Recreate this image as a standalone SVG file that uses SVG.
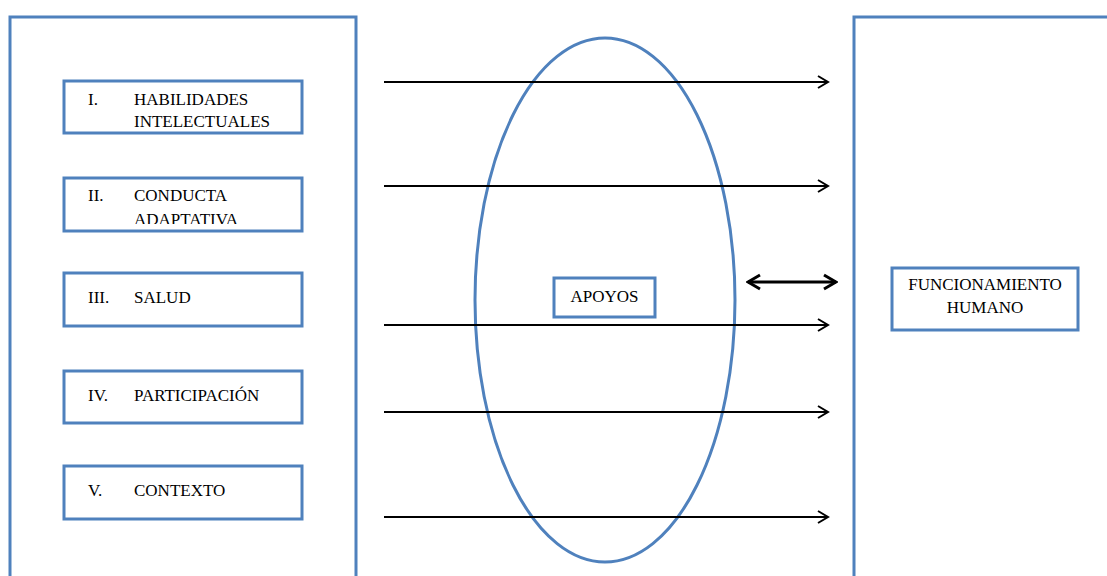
<svg xmlns="http://www.w3.org/2000/svg" width="1107" height="576" viewBox="0 0 1107 576">
<style>
.frame{fill:none;stroke:#4f81bd;stroke-width:3}
.box{fill:#fff;stroke:#4f81bd;stroke-width:3}
.t{font-family:"Liberation Serif","Times New Roman",serif;font-size:17px;fill:#000}
.arr{stroke:#000;stroke-width:2;fill:none}
.arr2{stroke:#000;stroke-width:3;fill:none}
</style>
<defs>
<marker id="ah" markerUnits="userSpaceOnUse" markerWidth="14" markerHeight="16" refX="12" refY="8" orient="auto">
<path d="M2,2 L12,8 L2,14" fill="none" stroke="#000" stroke-width="2"/>
</marker>
<marker id="ah2" markerUnits="userSpaceOnUse" markerWidth="16" markerHeight="18" refX="14" refY="9" orient="auto-start-reverse">
<path d="M2,2 L14,9 L2,16" fill="none" stroke="#000" stroke-width="3"/>
</marker>
<clipPath id="clip2"><rect x="60" y="170" width="250" height="54"/></clipPath>
</defs>
<rect width="1107" height="576" fill="#fff"/>
<g id="left-frame"><path class="frame" d="M10,580 V17 H356 V580"/></g>
<g id="right-frame"><path class="frame" d="M854,580 V17 H1110"/></g>
<g id="apoyos-ellipse"><ellipse class="frame" cx="605" cy="300" rx="130" ry="262"/></g>
<g id="connectors">
<line class="arr" x1="384" y1="82" x2="828" y2="82" marker-end="url(#ah)"/>
<line class="arr" x1="384" y1="186" x2="828" y2="186" marker-end="url(#ah)"/>
<line class="arr" x1="384" y1="325" x2="828" y2="325" marker-end="url(#ah)"/>
<line class="arr" x1="384" y1="412" x2="828" y2="412" marker-end="url(#ah)"/>
<line class="arr" x1="384" y1="517" x2="828" y2="517" marker-end="url(#ah)"/>
<line class="arr2" x1="748" y1="282" x2="836" y2="282" marker-start="url(#ah2)" marker-end="url(#ah2)"/>
</g>
<g id="n1"><rect class="box" x="64" y="81" width="238" height="52"/>
<text class="t" x="88" y="105">I.</text><text class="t" x="134" y="105">HABILIDADES</text><text class="t" x="134" y="127">INTELECTUALES</text></g>
<g id="n2"><rect class="box" x="64" y="178" width="238" height="53"/>
<text class="t" x="88" y="201">II.</text><text class="t" x="134" y="201">CONDUCTA</text><text class="t" x="134" y="225" clip-path="url(#clip2)">ADAPTATIVA</text></g>
<g id="n3"><rect class="box" x="64" y="273" width="238" height="53"/>
<text class="t" x="88" y="303">III.</text><text class="t" x="134" y="303">SALUD</text></g>
<g id="n4"><rect class="box" x="64" y="371" width="238" height="52"/>
<text class="t" x="88" y="401">IV.</text><text class="t" x="134" y="401">PARTICIPACIÓN</text></g>
<g id="n5"><rect class="box" x="64" y="466" width="238" height="53"/>
<text class="t" x="88" y="496">V.</text><text class="t" x="134" y="496">CONTEXTO</text></g>
<g id="apoyos"><rect class="box" x="554" y="278" width="101" height="39"/>
<text class="t" x="604.5" y="302" text-anchor="middle">APOYOS</text></g>
<g id="funcionamiento"><rect class="box" x="892" y="268" width="186" height="62"/>
<text class="t" x="985" y="290" text-anchor="middle">FUNCIONAMIENTO</text><text class="t" x="985" y="313" text-anchor="middle">HUMANO</text></g>
</svg>
